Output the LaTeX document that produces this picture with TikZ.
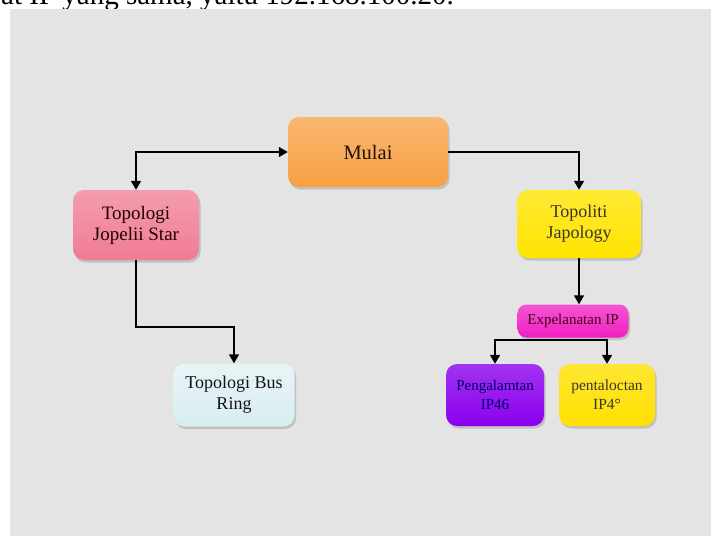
\documentclass[tikz,border=0pt]{standalone}
\usepackage{fontspec}
\setmainfont{Liberation Serif}
\usepackage{xcolor}
\usetikzlibrary{arrows.meta}
\usetikzlibrary{shadows}

\definecolor{panelgrey}{HTML}{E4E4E4}
\definecolor{mulaiorange}{HTML}{F7A043}
\definecolor{starpink}{HTML}{F07C93}
\definecolor{japoyellow}{HTML}{FFE400}
\definecolor{busblue}{HTML}{D8EDF1}
\definecolor{explmagenta}{HTML}{F01EC2}
\definecolor{pengpurple}{HTML}{8A00EE}
\definecolor{pentayellow}{HTML}{FFE000}

\tikzset{
  box/.style={rounded corners=11pt, align=center, inner sep=0pt,
    drop shadow={opacity=0.35, shadow xshift=1.5pt, shadow yshift=-2.5pt}},
  arr/.style={line width=1.6pt, -{Triangle[length=9pt,width=10pt]}},
  biarr/.style={line width=1.6pt, {Triangle[length=9pt,width=10pt]}-{Triangle[length=9pt,width=10pt]}},
}

\begin{document}
\begin{tikzpicture}[x=1pt,y=-1pt]
\useasboundingbox (0,0) rectangle (711,536);
\begin{scope}
    \clip (0,0) rectangle (711,536);
    \node[anchor=base west, inner sep=0pt, font=\fontsize{29}{33}\selectfont] (cap) at (1,4.5) {at IP yang sama, yaitu 192.168.100.20.};
\end{scope}
\fill[panelgrey] (10,9) rectangle (711,536);

\begin{scope}
   	\node[box, minimum width=160pt, minimum height=70pt, top color=mulaiorange!75!white, bottom color=mulaiorange, text=black!85!brown, font=\fontsize{20.5}{24}\selectfont] (mulai) at (368,152) {Mulai};
   	\node[box, minimum width=126pt, minimum height=70pt, top color=starpink!75!white, bottom color=starpink, text=black!88!red, font=\fontsize{19}{21}\selectfont] (star) at (136,225) {Topologi\\Jopelii Star};
   	\node[box, minimum width=124pt, minimum height=68pt, top color=japoyellow!80!white, bottom color=japoyellow, text=black!90!yellow, font=\fontsize{18}{21}\selectfont] (japo) at (579,224) {Topoliti\\Japology};
   	\node[box, minimum width=121pt, minimum height=63pt, top color=busblue!60!white, bottom color=busblue, text=black!92, font=\fontsize{18}{21}\selectfont] (bus) at (234,395) {Topologi Bus\\Ring};
   	\node[box, rounded corners=9pt, minimum width=111pt, minimum height=33pt, top color=explmagenta!75!white, bottom color=explmagenta, text=black!60!purple, font=\fontsize{15}{17}\selectfont] (expl) at (573,321) {Expelanatan IP};
   	\node[box, minimum width=98pt, minimum height=62pt, top color=pengpurple!80!white, bottom color=pengpurple, text=black!60!blue, font=\fontsize{15}{19}\selectfont] (peng) at (495,395) {Pengalamtan\\IP46};
   	\node[box, minimum width=96pt, minimum height=62pt, top color=pentayellow!80!white, bottom color=pentayellow, text=black!90!yellow, font=\fontsize{15.5}{19}\selectfont] (penta) at (607,395) {pentaloctan\\IP4°};

   	\coordinate (split) at (573,340);

   	\draw[biarr] (star.north) |- (mulai.west);
   	\draw[arr] (mulai.east) -| (japo.north);
   	\draw[arr] (japo.south) -- (japo.south |- expl.north);
   	\draw[arr] (split) -| (peng.north);
   	\draw[arr] (split) -| (penta.north);
   	\draw[arr] (star.south) -- ++(0,67) -| (bus.north);
\end{scope}
\end{tikzpicture}
\end{document}
